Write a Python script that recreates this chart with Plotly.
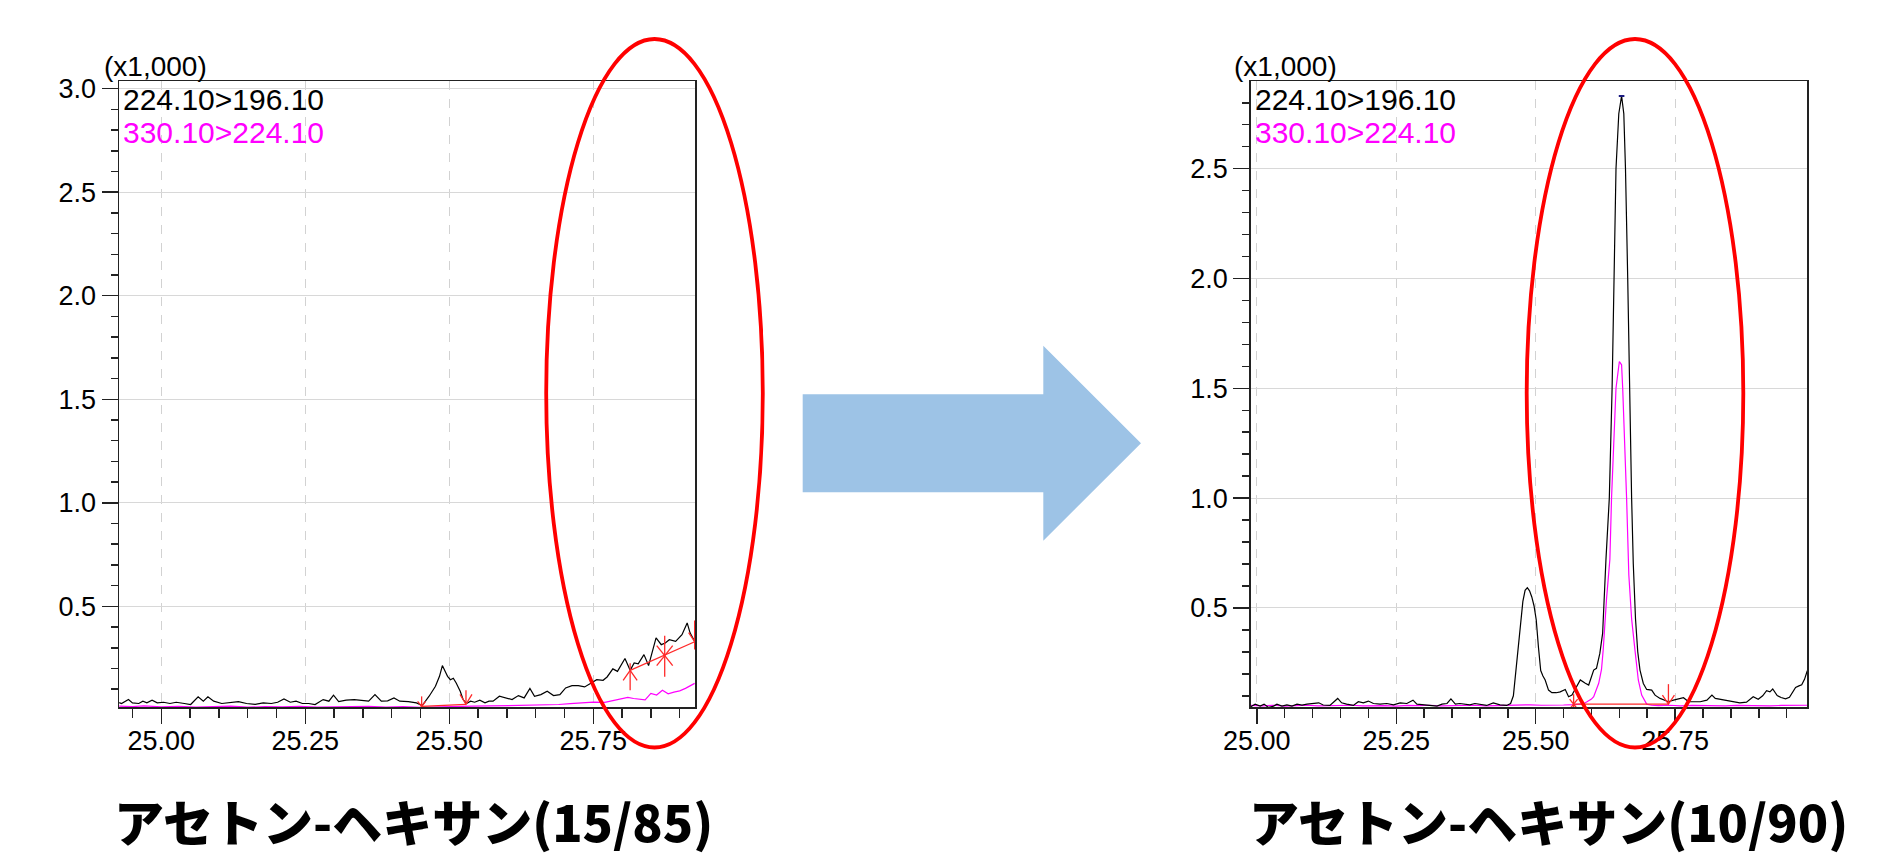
import plotly.graph_objects as go

W, H = 1891, 855

# ---------------- data (intensity in counts, time in min) ----------------
# Left chromatogram: acetone-hexane (15/85)
LB_T = [24.927, 24.931, 24.943, 24.950, 24.961, 24.968, 24.975, 24.984, 24.993, 25.004, 25.015,
        25.026, 25.040, 25.051, 25.064, 25.073, 25.081, 25.091, 25.105, 25.119, 25.134,
        25.148, 25.163, 25.177, 25.191, 25.202, 25.213, 25.224, 25.234, 25.245, 25.256,
        25.267, 25.281, 25.291, 25.299, 25.308, 25.321, 25.335, 25.350, 25.360, 25.371,
        25.382, 25.393, 25.404, 25.414, 25.429, 25.443, 25.453, 25.465, 25.476, 25.483,
        25.488, 25.494, 25.497, 25.502, 25.507, 25.512, 25.519, 25.524, 25.530, 25.537,
        25.544, 25.553, 25.562, 25.569, 25.576, 25.587, 25.598, 25.609, 25.620, 25.630,
        25.640, 25.648, 25.659, 25.670, 25.681, 25.692, 25.702, 25.713, 25.724, 25.735,
        25.745, 25.756, 25.767, 25.774, 25.784, 25.792, 25.805, 25.814, 25.821, 25.828,
        25.838, 25.846, 25.859, 25.868, 25.875, 25.882, 25.893, 25.904, 25.913, 25.918,
        25.926]
LB_V = [35, 31, 50, 34, 31, 42, 34, 47, 34, 37, 31,
        37, 31, 26, 63, 42, 63, 42, 31, 34, 40,
        31, 27, 34, 31, 37, 53, 37, 42, 31, 31,
        26, 50, 42, 71, 40, 47, 50, 47, 42, 74,
        42, 44, 58, 42, 40, 34, 21, 66, 114, 162,
        214, 179, 162, 146, 153, 130, 90, 50, 31, 42,
        37, 47, 34, 42, 42, 66, 58, 50, 69, 58,
        104, 66, 74, 90, 69, 74, 106, 117, 117, 111,
        127, 146, 143, 159, 198, 186, 248, 191, 227, 222,
        267, 214, 348, 315, 323, 339, 331, 363, 420, 372,
        331]
LM_T = [24.927, 24.95, 24.97, 25.00, 25.03, 25.06, 25.09, 25.12, 25.15, 25.18,
        25.21, 25.24, 25.27, 25.30, 25.33, 25.36, 25.39, 25.42, 25.45, 25.48,
        25.51, 25.54, 25.57, 25.60, 25.63, 25.66, 25.69, 25.71, 25.73, 25.75,
        25.77, 25.78, 25.80, 25.81, 25.82, 25.84, 25.85, 25.86, 25.87, 25.88,
        25.89, 25.90, 25.91, 25.926]
LM_V = [18, 16, 19, 15, 17, 14, 16, 18, 13, 16,
        15, 17, 14, 16, 15, 17, 14, 16, 12, 15,
        17, 18, 19, 21, 20, 22, 26, 30, 33, 38,
        36, 42, 52, 60, 55, 48, 80, 72, 95, 78,
        86, 92, 104, 128]

# Right chromatogram: acetone-hexane (10/90)
RB_T = [24.989, 24.997, 25.006, 25.013, 25.021, 25.030, 25.036, 25.045, 25.054, 25.063,
        25.072, 25.081, 25.090, 25.099, 25.111, 25.119, 25.131, 25.145, 25.152, 25.161,
        25.173, 25.182, 25.191, 25.200, 25.209, 25.221, 25.233, 25.245, 25.257, 25.269,
        25.280, 25.287, 25.299, 25.311, 25.323, 25.332, 25.341, 25.348, 25.356, 25.364,
        25.373, 25.382, 25.391, 25.400, 25.412, 25.424, 25.436, 25.448, 25.455, 25.460,
        25.466, 25.472, 25.477, 25.481, 25.485, 25.489, 25.493, 25.497, 25.501, 25.505,
        25.509, 25.513, 25.517, 25.523, 25.529, 25.537, 25.544, 25.553, 25.559, 25.565,
        25.571, 25.580, 25.589, 25.595, 25.604, 25.609, 25.615, 25.620, 25.626, 25.632,
        25.637, 25.641, 25.644, 25.649, 25.654, 25.658, 25.661, 25.665, 25.668, 25.672,
        25.675, 25.679, 25.683, 25.687, 25.693, 25.699, 25.708, 25.714, 25.723, 25.732,
        25.738, 25.747, 25.756, 25.765, 25.774, 25.783, 25.795, 25.807, 25.816, 25.822,
        25.831, 25.843, 25.855, 25.866, 25.878, 25.890, 25.899, 25.907, 25.914, 25.920,
        25.925, 25.933, 25.940, 25.948, 25.955, 25.961, 25.966, 25.972, 25.977, 25.982,
        25.987]
RB_V = [50, 62, 53, 62, 47, 53, 62, 53, 59, 53,
        62, 58, 62, 65, 68, 58, 56, 88, 68, 62,
        56, 73, 68, 76, 65, 62, 65, 59, 68, 65,
        80, 62, 58, 56, 53, 62, 65, 86, 62, 65,
        62, 59, 65, 62, 56, 68, 59, 56, 65, 100,
        260, 420, 530, 580, 592, 578, 550, 510, 445, 320,
        215, 190, 172, 126, 114, 114, 118, 129, 96, 103,
        129, 172, 157, 149, 217, 225, 293, 384, 721, 1000,
        1500, 2000, 2500, 2750, 2831, 2750, 2500, 2000, 1500, 1000,
        700, 450, 300, 217, 156, 129, 126, 103, 88, 80,
        73, 80, 84, 91, 73, 74, 73, 80, 103, 88,
        84, 77, 73, 68, 71, 96, 84, 100, 123, 118,
        131, 101, 92, 86, 93, 115, 138, 145, 150, 175,
        214]
RM_T = [24.989, 25.01, 25.03, 25.05, 25.07, 25.09, 25.11, 25.13, 25.15, 25.17,
        25.19, 25.21, 25.23, 25.25, 25.27, 25.29, 25.31, 25.33, 25.35, 25.37,
        25.39, 25.41, 25.43, 25.45, 25.47, 25.49, 25.51, 25.53, 25.55, 25.57,
        25.585, 25.592, 25.600, 25.604, 25.609, 25.613, 25.618, 25.621, 25.627, 25.633,
        25.636, 25.640, 25.644, 25.650, 25.654, 25.656, 25.660, 25.663, 25.667, 25.672,
        25.678, 25.684, 25.690, 25.699, 25.708, 25.72, 25.74, 25.76, 25.78, 25.80,
        25.82, 25.84, 25.86, 25.88, 25.90, 25.92, 25.94, 25.96, 25.987]
RM_V = [56, 54, 57, 53, 55, 57, 54, 56, 55, 57,
        54, 56, 55, 53, 56, 55, 57, 54, 56, 55,
        57, 54, 56, 55, 57, 59, 57, 56, 58, 60,
        63, 73, 85, 96, 126, 157, 220, 308, 541, 721,
        1000, 1280, 1500, 1622, 1607, 1500, 1250, 1000, 650, 450,
        308, 172, 103, 62, 57, 55, 57, 54, 56, 55,
        57, 54, 56, 55, 57, 54, 56, 55, 57]

# peak-integration events (time, counts)
L_PEAK1_BASE_T = [25.452, 25.529]
L_PEAK1_BASE_V = [17, 27]
L_PEAK2_BASE_T = [25.814, 25.927]
L_PEAK2_BASE_V = [191, 330]
L_PEAK2_SPLIT_T = [25.874]
L_PEAK2_SPLIT_V = [262]
R_PEAK_BASE_T = [25.568, 25.738]
R_PEAK_BASE_V = [62, 62]
R_APEX_T = [25.654]
R_APEX_V = [2831]

CH1 = "224.10>196.10"
CH2 = "330.10>224.10"
TITLE_L = "アセトン-ヘキサン(15/85)"
TITLE_R = "アセトン-ヘキサン(10/90)"
X_TICKS = [25.00, 25.25, 25.50, 25.75]

# ---------------- layout geometry ----------------
def px(x):
    return x / W

def py(y):
    return 1 - y / H

L_DOM_X = [px(119), px(695)]
R_DOM_X = [px(1250.7), px(1807.3)]
DOM_Y = [py(707), py(81)]
L_XR = [24.9266, 25.9266]
L_YR = [0.014, 3.037]
R_XR = [24.989, 25.987]
R_YR = [0.049, 2.899]

BLACK = "#000000"
MAG = "#ff00ff"
RED = "#ff2a2a"
TICKFONT = dict(family="Liberation Sans, Arial, sans-serif", size=27, color="black")
AXC = "#222222"

try:
    go.layout.XAxis(ticklabelstandoff=-6)
    X_STANDOFF = -6
except Exception:
    X_STANDOFF = 0


def k(v):
    return [a / 1000.0 for a in v]


fig = go.Figure()

fig.add_trace(go.Scatter(x=LB_T, y=k(LB_V), mode="lines", line=dict(color=BLACK, width=1.2),
                         xaxis="x", yaxis="y", hoverinfo="skip"))
fig.add_trace(go.Scatter(x=LM_T, y=k(LM_V), mode="lines", line=dict(color=MAG, width=1.2),
                         xaxis="x", yaxis="y", hoverinfo="skip"))
fig.add_trace(go.Scatter(x=RM_T, y=k(RM_V), mode="lines", line=dict(color=MAG, width=1.2),
                         xaxis="x2", yaxis="y2", hoverinfo="skip"))
fig.add_trace(go.Scatter(x=RB_T, y=k(RB_V), mode="lines", line=dict(color=BLACK, width=1.2),
                         xaxis="x2", yaxis="y2", hoverinfo="skip"))


# ---- integration marks (drawn in data space, offsets in screen pixels) ----
def mark(t, v, strokes, dom_x, xr, yr):
    wpx = (dom_x[1] - dom_x[0]) * W
    hpx = (DOM_Y[1] - DOM_Y[0]) * H
    sx = (xr[1] - xr[0]) / wpx
    sy = (yr[1] - yr[0]) / hpx
    xs, ys = [], []
    for st in strokes:
        for dx, dy in st:
            xs.append(t + dx * sx)
            ys.append(v / 1000.0 + dy * sy)
        xs.append(None)
        ys.append(None)
    return xs, ys


DOWN = [[(0, 0), (0, 14)], [(-6, 10), (0, 0), (6, 10)]]
DOWN_LONG = [[(0, -8), (0, 21)], [(-6, 9), (0, 0), (6, 9)]]
START = [[(0, -6), (0, 10)], [(-4, -5), (4, 5)], [(-4, 5), (4, -5)]]
UP = [[(0, 7), (0, -20)], [(-7, -10), (0, 0), (7, -10)]]
STAR = [[(0, 20), (0, -21)], [(-8, 10), (8, -10)], [(-8, -10), (8, 10)]]


def add_marks(items, dom_x, xr, yr, xa, ya):
    X, Y = [], []
    for t, v, s in items:
        a, b = mark(t, v, s, dom_x, xr, yr)
        X += a
        Y += b
    fig.add_trace(go.Scatter(x=X, y=Y, mode="lines", line=dict(color=RED, width=1.3),
                             xaxis=xa, yaxis=ya, hoverinfo="skip", connectgaps=False))


# baselines
fig.add_trace(go.Scatter(x=L_PEAK1_BASE_T, y=k(L_PEAK1_BASE_V), mode="lines",
                         line=dict(color=RED, width=1.3), xaxis="x", yaxis="y", hoverinfo="skip"))
fig.add_trace(go.Scatter(x=L_PEAK2_BASE_T, y=k(L_PEAK2_BASE_V), mode="lines",
                         line=dict(color=RED, width=1.3), xaxis="x", yaxis="y", hoverinfo="skip"))
fig.add_trace(go.Scatter(x=R_PEAK_BASE_T, y=k(R_PEAK_BASE_V), mode="lines",
                         line=dict(color=RED, width=1.3), xaxis="x2", yaxis="y2", hoverinfo="skip"))

add_marks([(L_PEAK1_BASE_T[0], L_PEAK1_BASE_V[0], START),
           (L_PEAK1_BASE_T[1], L_PEAK1_BASE_V[1], DOWN),
           (L_PEAK2_BASE_T[0], L_PEAK2_BASE_V[0], UP),
           (L_PEAK2_SPLIT_T[0], L_PEAK2_SPLIT_V[0], STAR),
           (L_PEAK2_BASE_T[1] - 0.001, L_PEAK2_BASE_V[1], DOWN_LONG)],
          L_DOM_X, L_XR, L_YR, "x", "y")
add_marks([(R_PEAK_BASE_T[0], R_PEAK_BASE_V[0], START),
           (R_PEAK_BASE_T[1], R_PEAK_BASE_V[1], [[(0, 0), (0, 20)], [(-6, 9), (0, 0), (6, 9)]])],
          R_DOM_X, R_XR, R_YR, "x2", "y2")

fig.add_trace(go.Scatter(x=R_APEX_T, y=k(R_APEX_V), mode="markers",
                         marker=dict(symbol="line-ew", size=4, line=dict(color="#1a1a80", width=2)),
                         xaxis="x2", yaxis="y2", hoverinfo="skip"))


def xaxis(dom, rng, anchor):
    return dict(domain=dom, range=rng, anchor=anchor, tickvals=X_TICKS,
                ticktext=["%.2f" % v for v in X_TICKS], automargin=False,
                ticks="outside", ticklen=15, tickwidth=1.5, tickcolor=AXC,
                ticklabelstandoff=X_STANDOFF,
                showline=True, linecolor=AXC, linewidth=1.5, mirror=True,
                showgrid=True, gridcolor="#d2d2d2", gridwidth=1, griddash="dash",
                zeroline=False, tickfont=TICKFONT, fixedrange=True,
                minor=dict(dtick=0.05, tick0=25.0, ticks="outside", ticklen=9,
                           tickwidth=1.5, tickcolor=AXC, showgrid=False))


def yaxis(rng, anchor):
    return dict(domain=DOM_Y, range=rng, anchor=anchor, tick0=0, dtick=0.5, tickformat=".1f",
                automargin=False,
                ticks="outside", ticklen=16, tickwidth=1.5, tickcolor=AXC,
                showline=True, linecolor=AXC, linewidth=1.5, mirror=True,
                showgrid=True, gridcolor="#d8d8d8", gridwidth=1,
                zeroline=False, tickfont=TICKFONT, fixedrange=True,
                minor=dict(dtick=0.1, tick0=0, ticks="outside", ticklen=7,
                           tickwidth=1.5, tickcolor=AXC, showgrid=False))


ann = []
LBL = dict(family="Liberation Sans, Arial, sans-serif", size=30)
for x0, title, tx in [(101.7, TITLE_L, 413), (1231.7, TITLE_R, 1548)]:
    ann.append(dict(x=px(x0), y=py(66), xref="paper", yref="paper", text="(x1,000)",
                    showarrow=False, xanchor="left", yanchor="middle",
                    font=dict(color="black", family="Liberation Sans, Arial, sans-serif", size=28)))
    ann.append(dict(x=px(tx), y=py(820), xref="paper", yref="paper", text=title,
                    showarrow=False, xanchor="center", yanchor="middle",
                    font=dict(family="Noto Sans CJK JP", size=50, color="black", weight=900)))
for x0 in [121, 1252.5]:
    ann.append(dict(x=px(x0), y=py(99), xref="paper", yref="paper", text=CH1,
                    showarrow=False, xanchor="left", yanchor="middle",
                    font=dict(color="black", **LBL)))
    ann.append(dict(x=px(x0), y=py(132), xref="paper", yref="paper", text=CH2,
                    showarrow=False, xanchor="left", yanchor="middle",
                    font=dict(color=MAG, **LBL)))

# big arrow between the panels
ARROW_PTS = [(802.7, 394.3), (1043.3, 394.3), (1043.3, 345.7), (1141, 443.3),
             (1043.3, 540.7), (1043.3, 492.3), (802.7, 492.3)]
path = "M " + " L ".join("%.5f %.5f" % (px(a), py(b)) for a, b in ARROW_PTS) + " Z"
shapes = [dict(type="path", path=path, xref="paper", yref="paper",
               fillcolor="#9dc3e6", line=dict(width=0))]
for cx in [654.5, 1635.0]:
    shapes.append(dict(type="circle", xref="paper", yref="paper",
                       x0=px(cx - 108.3), x1=px(cx + 108.3), y0=py(747.5), y1=py(39),
                       line=dict(color="#ff0000", width=3.8)))

fig.update_layout(
    template="none",
    width=W, height=H, margin=dict(l=0, r=0, t=0, b=0, pad=0, autoexpand=False),
    paper_bgcolor="white", plot_bgcolor="white", showlegend=False,
    xaxis=xaxis(L_DOM_X, L_XR, "y"), yaxis=yaxis(L_YR, "x"),
    xaxis2=xaxis(R_DOM_X, R_XR, "y2"), yaxis2=yaxis(R_YR, "x2"),
    annotations=ann, shapes=shapes,
)

fig.write_html("out.html", config={"displayModeBar": False, "staticPlot": True},
               post_script="document.body.style.margin='0';document.body.style.overflow='hidden';")
